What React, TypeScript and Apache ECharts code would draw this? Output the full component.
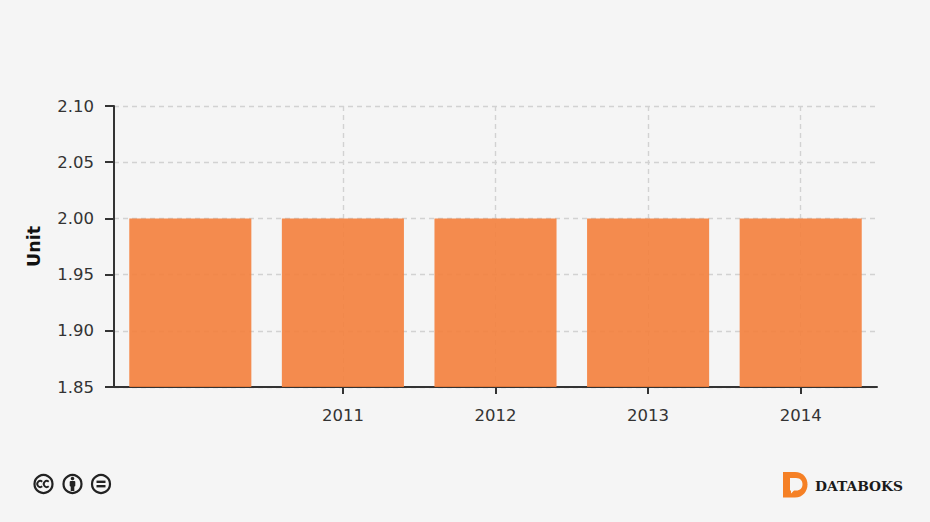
import React, { useEffect, useRef } from "react";
import * as echarts from "echarts";

const categories = ["", "2011", "2012", "2013", "2014"];
const unitValues = [2, 2, 2, 2, 2];
const yAxisName = "Unit";
const brandName = "DATABOKS";

echarts.graphic.registerShape(
  "databoksD",
  echarts.graphic.extendPath(
    "M0 0 H12 C20 0 24.5 6 24.5 12.5 C24.5 19 20 25.5 12 25.5 H0 Z",
    {}
  )
);
echarts.graphic.registerShape(
  "databoksBubble",
  echarts.graphic.extendPath(
    "M7 6 H13 C17.5 6 19.5 9 19.5 12 C19.5 16 17.5 18.5 13 18.5 H11 L8 21.5 V18.5 H7 Z",
    {}
  )
);

const ink = "#222222";
const ring = (cx: number) => ({
  type: "circle",
  shape: { cx, cy: 484, r: 9 },
  style: { fill: "#f5f5f5", stroke: ink, lineWidth: 2.2 },
});
const ccArc = (cx: number) => ({
  type: "arc",
  shape: { cx, cy: 484, r: 3, startAngle: Math.PI * 0.28, endAngle: Math.PI * 1.72, clockwise: true },
  style: { fill: "none", stroke: ink, lineWidth: 1.9 },
});

export default function App() {
  const ref = useRef<HTMLDivElement>(null);
  useEffect(() => {
    document.body.style.margin = "0";
    document.body.style.background = "#f5f5f5";
    const chart = echarts.init(ref.current!, null, { renderer: "svg" });
    chart.setOption({
      animation: false,
      backgroundColor: "#f5f5f5",
      textStyle: { fontFamily: "DejaVu Sans" },
      grid: { left: 114, right: 53, top: 106, bottom: 135, containLabel: false },
      xAxis: {
        type: "category",
        data: categories,
        axisLine: { show: true, lineStyle: { color: "#333333", width: 2 } },
        axisTick: {
          show: true,
          alignWithLabel: true,
          length: 7,
          lineStyle: { color: "#333333", width: 2 },
          interval: (_i: number, v: string) => v !== "",
        },
        axisLabel: {
          color: "#333333",
          fontSize: 16.5,
          margin: 20,
          fontFamily: "DejaVu Sans",
          interval: 0,
        },
        splitLine: {
          show: true,
          alignWithLabel: true,
          interval: (_i: number, v: string) => v !== "",
          lineStyle: { color: "#d2d2d2", type: [5, 4], width: 1.4 },
        },
      },
      yAxis: {
        type: "value",
        min: 1.85,
        max: 2.1,
        interval: 0.05,
        name: yAxisName,
        nameLocation: "middle",
        nameGap: 71,
        nameTextStyle: { color: "#111111", fontSize: 17.5, fontWeight: "bold", fontFamily: "DejaVu Sans" },
        axisLine: { show: true, lineStyle: { color: "#333333", width: 2 } },
        axisTick: { show: true, length: 9, lineStyle: { color: "#333333", width: 2 } },
        axisLabel: {
          color: "#333333",
          fontSize: 16.5,
          margin: 20,
          fontFamily: "DejaVu Sans",
          formatter: (v: number) => v.toFixed(2),
        },
        splitLine: {
          show: true,
          lineStyle: { color: "#d2d2d2", type: [5, 4], width: 1.4 },
        },
      },
      series: [
        {
          type: "bar",
          data: unitValues,
          barCategoryGap: "20%",
          itemStyle: { color: "#f47f3c", opacity: 0.9 },
        },
      ],
      graphic: [
        ring(43.5),
        ccArc(40.3),
        ccArc(46.8),
        ring(72.5),
        { type: "circle", shape: { cx: 72.5, cy: 478.5, r: 1.8 }, style: { fill: ink } },
        { type: "rect", shape: { x: 69.7, y: 481, width: 5.6, height: 5.5, r: 1 }, style: { fill: ink } },
        { type: "rect", shape: { x: 70.7, y: 485, width: 3.6, height: 6 }, style: { fill: ink } },
        ring(101),
        { type: "rect", shape: { x: 96.5, y: 480.6, width: 9, height: 2.4 }, style: { fill: ink } },
        { type: "rect", shape: { x: 96.5, y: 485, width: 9, height: 2.4 }, style: { fill: ink } },
        { type: "databoksD", x: 783, y: 472, style: { fill: "#f58025" } },
        { type: "databoksBubble", x: 783, y: 472, style: { fill: "#f5f5f5" } },
        {
          type: "text",
          x: 815,
          y: 486,
          style: {
            text: brandName,
            fill: "#1a1a1a",
            font: "bold 13.8px 'DejaVu Serif'",
            textVerticalAlign: "middle",
          },
        },
      ],
    });
    return () => chart.dispose();
  }, []);
  return (
    <div
      ref={ref}
      style={{ position: "fixed", left: 0, top: 0, width: 930, height: 522 }}
    />
  );
}
